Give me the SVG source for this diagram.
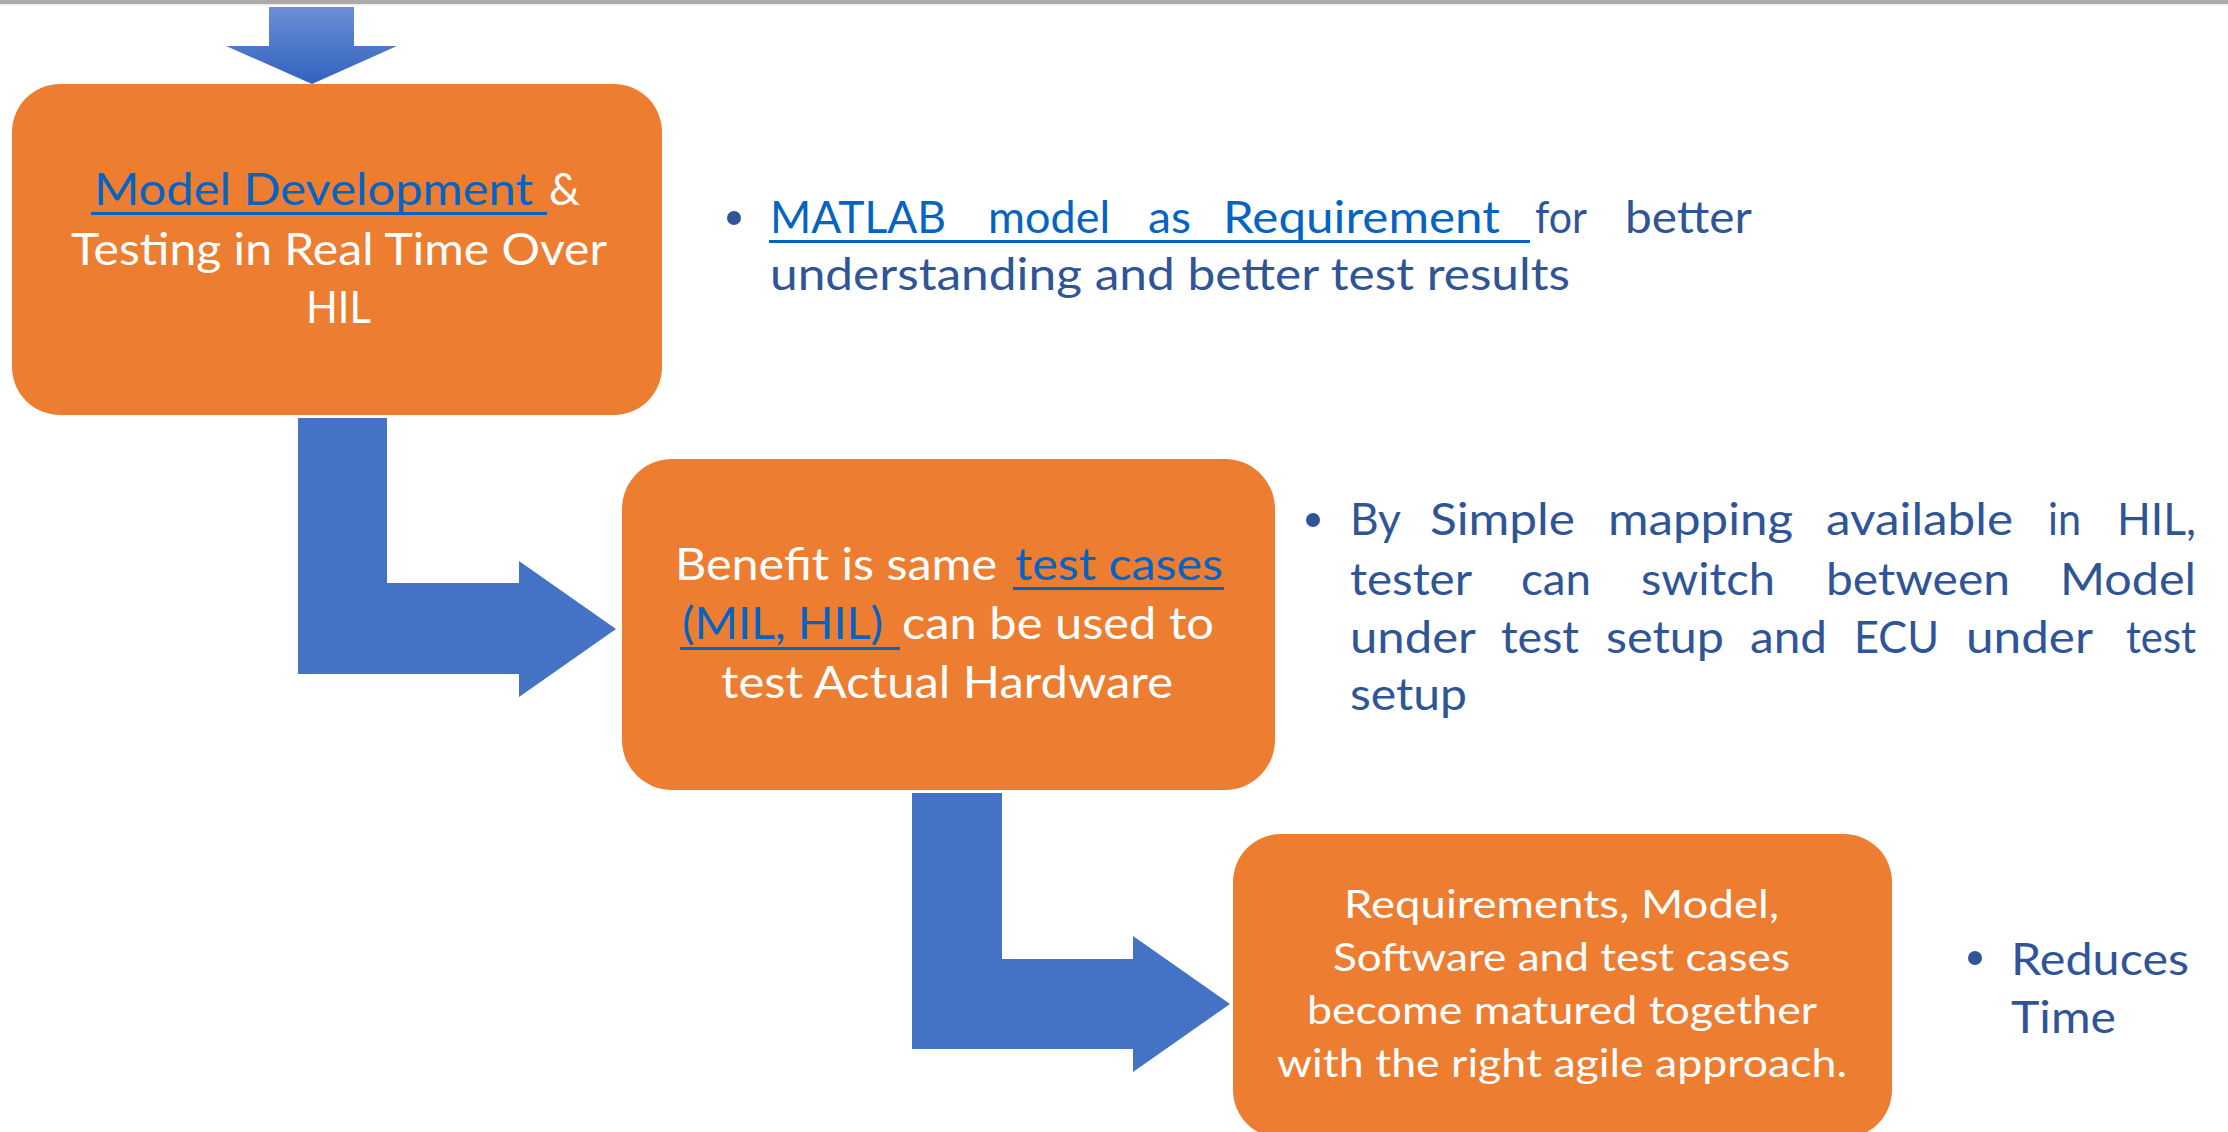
<svg xmlns="http://www.w3.org/2000/svg" width="2228" height="1132" viewBox="0 0 2228 1132">
  <defs>
    <linearGradient id="downGrad" x1="0" y1="0" x2="0" y2="1">
      <stop offset="0" stop-color="#6a8fd6"/>
      <stop offset="1" stop-color="#3262bf"/>
    </linearGradient>
    <style>
      .box { fill: #ed7d31; }
      .arrow { fill: #4472c4; }
      .t { font-family: Lato, "Liberation Sans", sans-serif; }
      .w { fill: #ffffff; }
      .link { fill: #0563c1; }
      .note { fill: #2f5597; }
      .ul { fill: #0563c1; }
      .dot { fill: #2f5597; }
      .big { font-size: 44px; }
      .mid { font-size: 39px; }
    </style>
  </defs>

  <rect width="2228" height="1132" fill="#ffffff"/>
  <!-- header rule -->
  <rect x="0" y="0" width="2228" height="4" fill="#aeaaaa"/>
  <rect x="0" y="4" width="2228" height="1.5" fill="#ececec"/>

  <!-- connectors -->
  <g id="connectors">
    <path id="arrow-in" d="M269,7 H354 V46 H397 L312,84 L226,46 H269 Z" fill="url(#downGrad)"/>
    <path id="arrow-1-2" class="arrow" d="M298,418 H387 V583 H519 V561 L616,629 L519,697 V674 H298 Z"/>
    <path id="arrow-2-3" class="arrow" d="M912,793 H1002 V959 H1133 V936 L1230,1004 L1133,1072 V1049 H912 Z"/>
  </g>

  <!-- step 1 -->
  <g id="node-model-dev">
    <rect class="box" x="12" y="84" width="650" height="331" rx="48" ry="48"/>
    <text class="t big link" x="94" y="205" textLength="439" lengthAdjust="spacingAndGlyphs">Model Development</text>
    <rect class="ul" x="91" y="212" width="456" height="3"/>
    <text class="t big w" x="549" y="205" textLength="31" lengthAdjust="spacingAndGlyphs">&amp;</text>
    <text class="t big w" x="71" y="265" textLength="536" lengthAdjust="spacingAndGlyphs">Testing in Real Time Over</text>
    <text class="t big w" x="306" y="323" textLength="65" lengthAdjust="spacingAndGlyphs">HIL</text>
  </g>

  <!-- step 2 -->
  <g id="node-benefit">
    <rect class="box" x="622" y="459" width="653" height="331" rx="50" ry="50"/>
    <text class="t big w" x="675" y="580" textLength="322" lengthAdjust="spacingAndGlyphs">Benefit is same</text>
    <text class="t big link" x="1015" y="580" textLength="208" lengthAdjust="spacingAndGlyphs">test cases</text>
    <rect class="ul" x="1013" y="587" width="211" height="3"/>
    <text class="t big link" x="682" y="639" textLength="201" lengthAdjust="spacingAndGlyphs">(MIL, HIL)</text>
    <rect class="ul" x="680" y="647" width="220" height="3"/>
    <text class="t big w" x="902" y="639" textLength="312" lengthAdjust="spacingAndGlyphs">can be used to</text>
    <text class="t big w" x="721" y="698" textLength="452" lengthAdjust="spacingAndGlyphs">test Actual Hardware</text>
  </g>

  <!-- step 3 -->
  <g id="node-matured">
    <rect class="box" x="1233" y="834" width="659" height="304" rx="48" ry="48"/>
    <text class="t mid w" x="1344" y="918" textLength="435" lengthAdjust="spacingAndGlyphs">Requirements, Model,</text>
    <text class="t mid w" x="1333" y="971" textLength="457" lengthAdjust="spacingAndGlyphs">Software and test cases</text>
    <text class="t mid w" x="1307" y="1024" textLength="510" lengthAdjust="spacingAndGlyphs">become matured together</text>
    <text class="t mid w" x="1277" y="1077" textLength="570" lengthAdjust="spacingAndGlyphs">with the right agile approach.</text>
  </g>

  <!-- note beside step 1 (justified: one text per word) -->
  <g id="note-matlab">
    <circle class="dot" cx="734" cy="218" r="7"/>
    <text class="t big link" x="770" y="233" textLength="176" lengthAdjust="spacingAndGlyphs">MATLAB</text>
    <text class="t big link" x="988" y="233" textLength="122" lengthAdjust="spacingAndGlyphs">model</text>
    <text class="t big link" x="1148" y="233" textLength="43" lengthAdjust="spacingAndGlyphs">as</text>
    <text class="t big link" x="1223" y="233" textLength="277" lengthAdjust="spacingAndGlyphs">Requirement</text>
    <rect class="ul" x="769" y="240" width="761" height="3"/>
    <text class="t big note" x="1535" y="233" textLength="52" lengthAdjust="spacingAndGlyphs">for</text>
    <text class="t big note" x="1625" y="233" textLength="127" lengthAdjust="spacingAndGlyphs">better</text>
    <text class="t big note" x="770" y="290" textLength="800" lengthAdjust="spacingAndGlyphs">understanding and better test results</text>
  </g>

  <!-- note beside step 2 (justified: one text per word) -->
  <g id="note-mapping" class="t big note">
    <circle class="dot" cx="1313" cy="520" r="7"/>
    <text x="1350" y="535" textLength="51" lengthAdjust="spacingAndGlyphs">By</text>
    <text x="1430" y="535" textLength="145" lengthAdjust="spacingAndGlyphs">Simple</text>
    <text x="1608" y="535" textLength="185" lengthAdjust="spacingAndGlyphs">mapping</text>
    <text x="1826" y="535" textLength="187" lengthAdjust="spacingAndGlyphs">available</text>
    <text x="2048" y="535" textLength="33" lengthAdjust="spacingAndGlyphs">in</text>
    <text x="2117" y="535" textLength="79" lengthAdjust="spacingAndGlyphs">HIL,</text>

    <text x="1350" y="595" textLength="122" lengthAdjust="spacingAndGlyphs">tester</text>
    <text x="1521" y="595" textLength="70" lengthAdjust="spacingAndGlyphs">can</text>
    <text x="1641" y="595" textLength="134" lengthAdjust="spacingAndGlyphs">switch</text>
    <text x="1826" y="595" textLength="184" lengthAdjust="spacingAndGlyphs">between</text>
    <text x="2060" y="595" textLength="136" lengthAdjust="spacingAndGlyphs">Model</text>

    <text x="1350" y="653" textLength="126" lengthAdjust="spacingAndGlyphs">under</text>
    <text x="1501" y="653" textLength="78" lengthAdjust="spacingAndGlyphs">test</text>
    <text x="1606" y="653" textLength="118" lengthAdjust="spacingAndGlyphs">setup</text>
    <text x="1750" y="653" textLength="77" lengthAdjust="spacingAndGlyphs">and</text>
    <text x="1854" y="653" textLength="85" lengthAdjust="spacingAndGlyphs">ECU</text>
    <text x="1966" y="653" textLength="127" lengthAdjust="spacingAndGlyphs">under</text>
    <text x="2126" y="653" textLength="70" lengthAdjust="spacingAndGlyphs">test</text>

    <text x="1350" y="710" textLength="117" lengthAdjust="spacingAndGlyphs">setup</text>
  </g>

  <!-- note beside step 3 -->
  <g id="note-time">
    <circle class="dot" cx="1975" cy="958" r="7"/>
    <text class="t big note" x="2011" y="975" textLength="178" lengthAdjust="spacingAndGlyphs">Reduces</text>
    <text class="t big note" x="2011" y="1033" textLength="105" lengthAdjust="spacingAndGlyphs">Time</text>
  </g>
</svg>
